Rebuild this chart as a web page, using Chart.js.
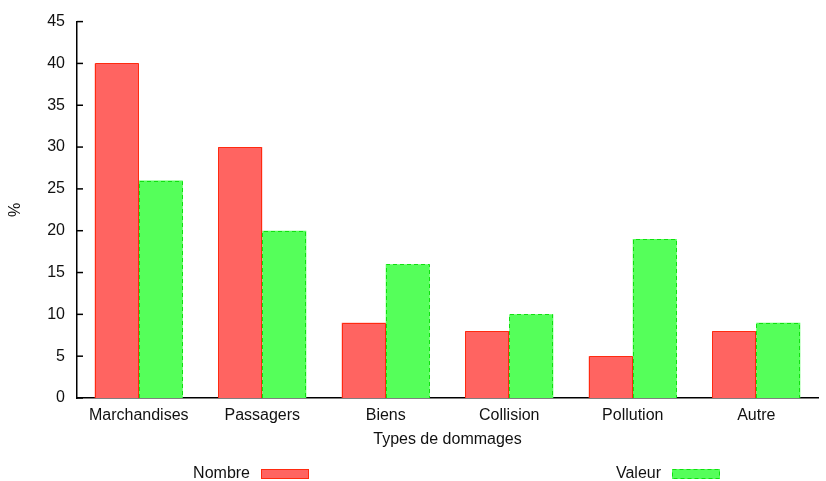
<!DOCTYPE html>
<html>
<head>
  <meta charset="UTF-8">
  <title>Types de dommages</title>
  <script src="https://cdn.jsdelivr.net/npm/chart.js"></script>
  <style>
    html, body { margin: 0; padding: 0; background: #fff; }
    #wrap { width: 826px; height: 481px; }
  </style>
</head>
<body>
  <div id="wrap"><canvas id="chart" width="826" height="481"></canvas></div>
  <script>
    const categories = ['Marchandises', 'Passagers', 'Biens', 'Collision', 'Pollution', 'Autre'];
    const nombre = [40, 30, 9, 8, 5, 8];
    const valeur = [26, 20, 16, 10, 19, 9];
    const seriesNames = ['Nombre', 'Valeur'];
    const yTicksMax = 45;
    const yStep = 5;

    const FONT = 'Liberation Sans, Arial, Helvetica, sans-serif';
    const fills = ['#ff6461', '#55ff5a'];
    const edges = ['#ff2a10', '#10e010'];
    const dashes = [[], [4, 3]];

    // outline each bar (green one dashed), using the bar geometry Chart.js computed
    const barOutline = {
      id: 'barOutline',
      afterDatasetsDraw(chart) {
        const ctx = chart.ctx;
        chart.data.datasets.forEach((ds, i) => {
          const meta = chart.getDatasetMeta(i);
          ctx.save();
          ctx.strokeStyle = edges[i];
          ctx.lineWidth = 1;
          ctx.setLineDash(dashes[i]);
          meta.data.forEach(bar => {
            const p = bar.getProps(['x', 'y', 'base', 'width'], true);
            const l = Math.round(p.x - p.width / 2) + 0.5;
            const r = Math.round(p.x + p.width / 2) - 0.5;
            const t = Math.round(p.y) + 0.5;
            const b = Math.round(p.base);
            ctx.beginPath();
            ctx.moveTo(l, b);
            ctx.lineTo(l, t);
            ctx.lineTo(r, t);
            ctx.lineTo(r, b);
            ctx.stroke();
          });
          ctx.restore();
        });
      }
    };

    // small inward ticks on the y axis + gnuplot-like legend at the bottom
    const decorations = {
      id: 'decorations',
      afterDraw(chart) {
        const ctx = chart.ctx;
        const ys = chart.scales.y;
        ctx.save();
        ctx.strokeStyle = '#000';
        ctx.lineWidth = 1.5;
        ys.ticks.forEach((t, i) => {
          const py = ys.getPixelForTick(i);
          ctx.beginPath();
          ctx.moveTo(ys.right, py);
          ctx.lineTo(ys.right + 6, py);
          ctx.stroke();
        });
        // legend
        const boxX = [261, 672];
        ctx.font = '16px ' + FONT;
        ctx.textAlign = 'right';
        ctx.textBaseline = 'middle';
        seriesNames.forEach((name, i) => {
          ctx.fillStyle = '#111';
          ctx.fillText(name, boxX[i] - 11, 474);
          ctx.fillStyle = fills[i];
          ctx.fillRect(boxX[i], 469, 48, 10);
          ctx.strokeStyle = edges[i];
          ctx.lineWidth = 1;
          ctx.setLineDash(dashes[i]);
          ctx.strokeRect(boxX[i] + 0.5, 469.5, 47, 9);
        });
        ctx.restore();
      }
    };

    new Chart(document.getElementById('chart'), {
      type: 'bar',
      data: {
        labels: categories,
        datasets: [
          { label: seriesNames[0], data: nombre, backgroundColor: fills[0], borderWidth: 0 },
          { label: seriesNames[1], data: valeur, backgroundColor: fills[1], borderWidth: 0 }
        ]
      },
      options: {
        responsive: false,
        animation: false,
        layout: { padding: { left: 0, right: 8, top: 18, bottom: 0 } },
        datasets: { bar: { categoryPercentage: 0.713, barPercentage: 1 } },
        plugins: { legend: { display: false }, tooltip: { enabled: false } },
        scales: {
          x: {
            grid: { display: false, drawTicks: false },
            border: { color: '#000', width: 1.5 },
            ticks: { color: '#111', padding: 8, font: { family: FONT, size: 16 } },
            title: { display: true, text: 'Types de dommages', color: '#111',
                     font: { family: FONT, size: 16 }, padding: { top: 0, bottom: 32 } },
            afterFit(s) { s.height = 83; }
          },
          y: {
            min: 0, max: yTicksMax,
            grid: { display: false, drawTicks: false },
            border: { color: '#000', width: 1.5 },
            ticks: { stepSize: yStep, color: '#111', padding: 12, font: { family: FONT, size: 16 } },
            title: { display: true, text: '%', color: '#111',
                     font: { family: FONT, size: 16 }, padding: { top: 6, bottom: 0 } },
            afterFit(s) { s.width = 77; }
          }
        }
      },
      plugins: [barOutline, decorations]
    });
  </script>
</body>
</html>
